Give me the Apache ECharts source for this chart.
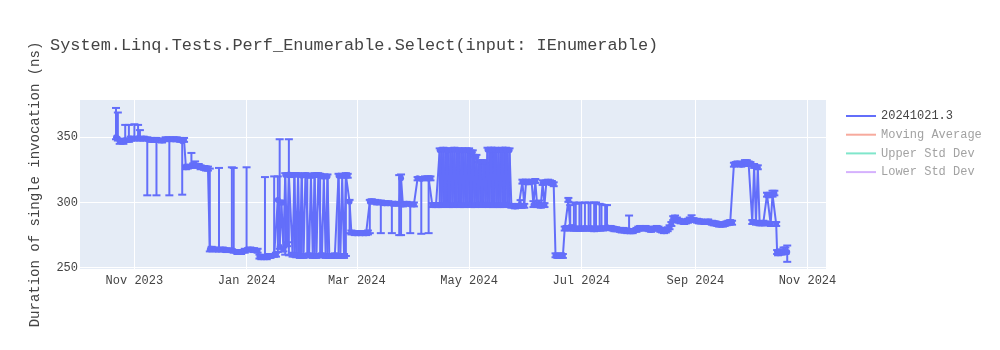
<!DOCTYPE html>
<html>
<head>
<meta charset="utf-8">
<script src="https://cdn.jsdelivr.net/npm/echarts@6/dist/echarts.min.js"></script>
<style>
  html, body { margin: 0; padding: 0; background: #ffffff; }
  #chart { width: 1000px; height: 350px; }
</style>
</head>
<body>
<div id="chart"></div>
<script>
// ---------------- texts & ticks ----------------
const chartTitle = 'System.Linq.Tests.Perf_Enumerable.Select(input: IEnumerable)';
const yAxisTitle = 'Duration of single invocation (ns)';
const seriesNames = ['20241021.3', 'Moving Average', 'Upper Std Dev', 'Lower Std Dev'];
const xTickDates = ['2023-11-01', '2024-01-01', '2024-03-01', '2024-05-01', '2024-07-01', '2024-09-01', '2024-11-01'];
const xTickLabels = ['Nov 2023', 'Jan 2024', 'Mar 2024', 'May 2024', 'Jul 2024', 'Sep 2024', 'Nov 2024'];
const yTickValues = [250, 300, 350];
const xRange = ['2023-10-02 10:00', '2024-11-11 02:00'];
const yRange = [249, 378.6];

// ---------------- data ----------------
const runDates = [
  // Oct 2023
  '2023-10-22','2023-10-23','2023-10-24','2023-10-26','2023-10-27','2023-10-29','2023-10-30',
  // Nov 2023
  '2023-11-01','2023-11-03','2023-11-04','2023-11-06','2023-11-08','2023-11-10','2023-11-12','2023-11-13','2023-11-16','2023-11-18','2023-11-20','2023-11-22','2023-11-24','2023-11-26','2023-11-27','2023-11-28','2023-11-29','2023-11-30',
  // Dec 2023
  '2023-12-02','2023-12-03','2023-12-04','2023-12-06','2023-12-07','2023-12-09','2023-12-10','2023-12-11','2023-12-12','2023-12-13','2023-12-15','2023-12-17','2023-12-19','2023-12-21','2023-12-24','2023-12-25','2023-12-27','2023-12-29','2023-12-31',
  // Jan 2024
  '2024-01-01','2024-01-03','2024-01-05','2024-01-07','2024-01-08','2024-01-09','2024-01-11','2024-01-12','2024-01-13','2024-01-14','2024-01-16','2024-01-17','2024-01-18','2024-01-19','2024-01-20','2024-01-21','2024-01-22','2024-01-23','2024-01-24','2024-01-25','2024-01-26','2024-01-27','2024-01-28','2024-01-29','2024-01-30','2024-01-31',
  // Feb 2024
  '2024-02-01','2024-02-02','2024-02-03','2024-02-04','2024-02-05','2024-02-06','2024-02-07','2024-02-08','2024-02-09','2024-02-10','2024-02-11','2024-02-12','2024-02-13','2024-02-14','2024-02-15','2024-02-16','2024-02-18','2024-02-19','2024-02-20','2024-02-21','2024-02-22','2024-02-23','2024-02-24','2024-02-25','2024-02-26','2024-02-27','2024-02-29',
  // Mar 2024
  '2024-03-02','2024-03-04','2024-03-06','2024-03-07','2024-03-08','2024-03-09','2024-03-11','2024-03-12','2024-03-14','2024-03-16','2024-03-18','2024-03-20','2024-03-22','2024-03-24','2024-03-25','2024-03-26','2024-03-28','2024-03-30',
  // Apr 2024
  '2024-04-01','2024-04-03','2024-04-05','2024-04-07','2024-04-09','2024-04-10','2024-04-11','2024-04-13','2024-04-14',
  '2024-04-15','2024-04-16','2024-04-17','2024-04-18','2024-04-19','2024-04-20','2024-04-21','2024-04-22','2024-04-23','2024-04-24','2024-04-25','2024-04-26','2024-04-27','2024-04-28','2024-04-29','2024-04-30',
  // May 2024
  '2024-05-01','2024-05-02','2024-05-03','2024-05-04','2024-05-05','2024-05-06','2024-05-07','2024-05-08','2024-05-09','2024-05-10','2024-05-11','2024-05-12','2024-05-13','2024-05-14','2024-05-15','2024-05-16','2024-05-17','2024-05-18','2024-05-19','2024-05-20','2024-05-21','2024-05-22','2024-05-23','2024-05-24',
  '2024-05-26','2024-05-28','2024-05-29','2024-05-30','2024-05-31',
  // Jun 2024
  '2024-06-01','2024-06-02','2024-06-04','2024-06-05','2024-06-06','2024-06-07','2024-06-08','2024-06-09','2024-06-10','2024-06-11','2024-06-12','2024-06-13','2024-06-14','2024-06-15','2024-06-16','2024-06-17','2024-06-18','2024-06-19','2024-06-20','2024-06-21','2024-06-22','2024-06-23','2024-06-24','2024-06-25','2024-06-26','2024-06-27','2024-06-28','2024-06-29','2024-06-30',
  // Jul 2024
  '2024-07-01','2024-07-02','2024-07-03','2024-07-04','2024-07-05','2024-07-06','2024-07-07','2024-07-08','2024-07-09','2024-07-10','2024-07-11','2024-07-12','2024-07-13','2024-07-14','2024-07-15','2024-07-16','2024-07-17','2024-07-18','2024-07-19','2024-07-20',
  '2024-07-22','2024-07-23','2024-07-24','2024-07-25','2024-07-26','2024-07-27','2024-07-28','2024-07-29','2024-07-31',
  // Aug 2024
  '2024-08-01','2024-08-02','2024-08-03','2024-08-05','2024-08-06','2024-08-07','2024-08-08','2024-08-10','2024-08-11','2024-08-12','2024-08-13','2024-08-14','2024-08-15','2024-08-16','2024-08-17','2024-08-18','2024-08-19','2024-08-20','2024-08-21','2024-08-22','2024-08-23','2024-08-24','2024-08-26','2024-08-27','2024-08-28','2024-08-29','2024-08-30','2024-08-31',
  // Sep 2024
  '2024-09-02','2024-09-03','2024-09-04','2024-09-06','2024-09-07','2024-09-08','2024-09-10','2024-09-11','2024-09-12','2024-09-13','2024-09-14','2024-09-16','2024-09-17','2024-09-18','2024-09-19','2024-09-20','2024-09-21','2024-09-22','2024-09-23','2024-09-24','2024-09-25','2024-09-26','2024-09-27','2024-09-28','2024-09-29','2024-09-30',
  // Oct 2024
  '2024-10-01','2024-10-02','2024-10-03','2024-10-04','2024-10-05','2024-10-06','2024-10-07','2024-10-08','2024-10-09','2024-10-10','2024-10-11','2024-10-12','2024-10-13','2024-10-14','2024-10-15','2024-10-15 12:00','2024-10-16','2024-10-17','2024-10-18','2024-10-19','2024-10-20','2024-10-21'
];

const durations = [
  // Oct 2023
  350, 349, 347, 346.5, 348, 348, 349,
  // Nov 2023
  349, 349.5, 349, 349, 348.5, 348, 348, 348, 347.5, 348.5, 348.5, 348.5, 348.5, 348, 347, 348, 327, 327.5,
  // Dec 2023
  328, 328.5, 329, 328, 327, 326.5, 326, 326, 264, 264.5, 264, 264, 264, 263.5, 263.5, 263, 262, 262, 263,
  // Jan 2024
  264, 264, 263.5, 263, 258.5, 258, 258.5, 258, 259, 259, 260, 260, 302, 266, 300, 264, 321, 268, 321.5, 321, 260, 321, 259.5, 321, 259, 320.5,
  // Feb 2024
  259, 321, 320.5, 259.5, 320.5, 259, 321, 259, 321, 320.5, 259.5, 320, 259, 320, 259, 259, 259.5, 259, 320.5, 259, 320.5, 259, 321, 320.5, 300.5, 277, 276.5,
  // Mar 2024
  276.5, 276.5, 276.5, 277, 300.5, 301, 300.5, 300, 300, 299.5, 299.5, 299, 299, 299, 318.5, 298.5, 299, 298.5,
  // Apr 2024
  298.5, 318.5, 318, 318.5, 318.5, 318.5, 298, 298, 298,
  340, 298, 340.5, 298.5, 340, 298, 340, 298, 340.5, 298.5, 340, 298, 340, 298, 340, 298.5,
  // May 2024
  340, 298, 338.5, 298, 335, 298.5, 331, 298, 331, 298.5, 340.5, 298, 340.5, 298, 340.5, 298, 340, 298, 340.5, 298, 340.5, 298.5, 340, 297.5,
  297, 297.5, 297.5, 316, 297.5,
  // Jun 2024
  316, 315.5, 316, 298, 316.5, 298, 298.5, 297.5, 315, 298, 315.5, 316, 315.5, 315, 314, 259.5, 259, 259, 259.5, 259, 280, 280.5, 302, 280, 281, 280, 280, 280, 280,
  // Jul 2024
  280, 280, 280.5, 280, 280, 280.5, 280, 279.5, 280, 280, 280, 280.5, 280, 280.5, 281, 280.5, 280.5, 280, 279.5, 279.5,
  279, 278.5, 279, 278.5, 278, 278.5, 278, 278, 279,
  // Aug 2024
  280, 280.5, 280, 280.5, 280, 279.5, 279, 280, 280.5, 280, 279, 278.5, 278, 278.5, 279.5, 281, 283.5, 288, 288.5, 287, 286, 285.5, 285, 285.5, 286, 287, 287.5, 286.5,
  // Sep 2024
  286, 285.5, 285.5, 285, 285, 285.5, 284.5, 284, 284, 283.5, 283, 283, 283.5, 284, 284.5, 285, 284.5, 329, 329.5, 330, 329.5, 329, 329.5, 330.5, 330, 330,
  // Oct 2024
  329.5, 285, 328, 284.5, 327, 284, 284, 284.5, 284, 306, 305.5, 283.5, 306, 307, 283.5, 262, 261, 262.5, 261.5, 262.5, 262, 262
];

const errMinus = [
  // Oct 2023
  1.5, 1.5, 2, 1.5, 1.5, 1.5, 1.5,
  // Nov 2023
  1.5, 1.5, 1.5, 1.5, 43, 1.5, 1.5, 42.5, 1.5, 1.5, 43, 1.5, 1.5, 1.5, 41, 1.5, 1.5, 1.5,
  // Dec 2023
  1.5, 1.5, 1.5, 1.5, 1.5, 1.5, 1.5, 1.5, 1.5, 1.5, 1.5, 1.5, 1.5, 1.5, 1.5, 1.5, 1.5, 1.5, 1.5,
  // Jan 2024
  1.5, 1.5, 1.5, 1.5, 1.5, 1.5, 1.5, 1.5, 1.5, 1.5, 1.5, 1.5, 40, 1.5, 1.5, 1.5, 61, 1.5, 62, 1.5, 1.5, 61.5, 1.5, 61.5, 1.5, 61,
  // Feb 2024
  1.5, 1.5, 61, 1.5, 1.5, 1.5, 62, 1.5, 1.5, 61.5, 1.5, 1.5, 1.5, 61, 1.5, 1.5, 1.5, 1.5, 61.5, 1.5, 1.5, 1.5, 62, 1.5, 24, 1.5, 1.5,
  // Mar 2024
  1.5, 1.5, 1.5, 1.5, 24, 1.5, 1.5, 1.5, 23.5, 1.5, 1.5, 22.5, 1.5, 24, 43.5, 1.5, 1.5, 22,
  // Apr 2024
  1.5, 1.5, 42, 1.5, 42, 1.5, 1.5, 1.5, 1.5,
  42, 1.5, 42.5, 1.5, 42, 1.5, 42, 1.5, 42.5, 1.5, 42, 1.5, 42, 1.5, 42, 1.5,
  // May 2024
  42, 1.5, 40.5, 1.5, 37, 1.5, 33, 1.5, 33, 1.5, 42.5, 1.5, 42.5, 1.5, 42.5, 1.5, 42, 1.5, 42.5, 1.5, 42.5, 1.5, 42.5, 1.5,
  1.5, 1.5, 1.5, 1.5, 1.5,
  // Jun 2024
  1.5, 1.5, 1.5, 1.5, 1.5, 1.5, 1.5, 1.5, 1.5, 1.5, 1.5, 1.5, 1.5, 1.5, 1.5, 1.5, 1.5, 1.5, 1.5, 1.5, 1.5, 1.5, 1.5, 1.5, 1.5, 1.5, 1.5, 1.5, 1.5,
  // Jul 2024
  1.5, 1.5, 1.5, 1.5, 1.5, 1.5, 1.5, 1.5, 1.5, 1.5, 1.5, 1.5, 1.5, 1.5, 1.5, 1.5, 1.5, 1.5, 1.5, 1.5,
  1.5, 1.5, 1.5, 1.5, 1.5, 1.5, 1.5, 1.5, 1.5,
  // Aug 2024
  1.5, 1.5, 1.5, 1.5, 1.5, 1.5, 1.5, 1.5, 1.5, 1.5, 1.5, 1.5, 1.5, 1.5, 1.5, 1.5, 1.5, 1.5, 1.5, 1.5, 1.5, 1.5, 1.5, 1.5, 1.5, 1.5, 1.5, 1.5,
  // Sep 2024
  1.5, 1.5, 1.5, 1.5, 1.5, 1.5, 1.5, 1.5, 1.5, 1.5, 1.5, 1.5, 1.5, 1.5, 1.5, 1.5, 1.5, 1.5, 1.5, 1.5, 1.5, 1.5, 1.5, 1.5, 1.5, 1.5,
  // Oct 2024
  1.5, 1.5, 1.5, 1.5, 1.5, 1.5, 1.5, 1.5, 1.5, 1.5, 1.5, 1.5, 1.5, 1.5, 1.5, 1.5, 1.5, 1.5, 1.5, 1.5, 1.5, 7.5
];

const errPlus = [
  // Oct 2023
  22.5, 20, 2, 1.5, 11.5, 11.5, 1.5,
  // Nov 2023
  11, 10, 6.5, 1.5, 1.5, 1.5, 1.5, 1.5, 1.5, 1.5, 1.5, 1.5, 1.5, 1.5, 1.5, 1.5, 1.5, 1.5,
  // Dec 2023
  10, 1.5, 2.5, 1.5, 1.5, 1.5, 1.5, 1.5, 62, 1.5, 1.5, 62.5, 1.5, 1.5, 63.5, 63.5, 1.5, 1.5, 1.5,
  // Jan 2024
  63, 1.5, 1.5, 1.5, 1.5, 1.5, 61, 1.5, 1.5, 1.5, 60, 1.5, 18, 82.5, 1.5, 1.5, 1.5, 1.5, 27, 1.5, 1.5, 1.5, 1.5, 1.5, 1.5, 1.5,
  // Feb 2024
  1.5, 1.5, 1.5, 1.5, 1.5, 1.5, 1.5, 1.5, 1.5, 1.5, 1.5, 1.5, 1.5, 1.5, 1.5, 1.5, 1.5, 1.5, 1.5, 1.5, 1.5, 1.5, 1.5, 1.5, 1.5, 1.5, 1.5,
  // Mar 2024
  1.5, 1.5, 1.5, 1.5, 1.5, 1.5, 1.5, 1.5, 1.5, 1.5, 1.5, 1.5, 1.5, 22, 3, 1.5, 1.5, 1.5,
  // Apr 2024
  1.5, 1, 1.5, 1.5, 1.5, 1.5, 1.5, 1.5, 1.5,
  1.5, 42, 1.5, 41.5, 1.5, 42, 1.5, 42, 1.5, 41.5, 1.5, 42, 1.5, 42, 1.5, 41.5,
  // May 2024
  1.5, 40, 1.5, 37, 1.5, 32.5, 1.5, 33, 1.5, 32, 1.5, 42.5, 1.5, 42.5, 1.5, 42, 1.5, 42.5, 1.5, 42.5, 1.5, 41.5, 1.5, 1.5,
  1.5, 1.5, 4.3, 1.5, 1.5,
  // Jun 2024
  1.5, 1.5, 1.5, 3, 1.5, 1.5, 3, 1.5, 2, 1.5, 1.5, 1.5, 1.5, 1.5, 1.5, 1.5, 1.5, 1.5, 1.5, 1.5, 1.5, 1.5, 1.5, 18, 1.5, 20, 19, 1.5, 20,
  // Jul 2024
  19.5, 1.5, 19.5, 1.5, 20, 19, 1.5, 20.5, 20, 1.5, 19, 18, 1.5, 17.5, 17, 1.5, 1.5, 1.5, 1.5, 1.5,
  1.5, 1.5, 1.5, 1.5, 1.5, 11.5, 1.5, 1.5, 1.5,
  // Aug 2024
  1.5, 1.5, 1.5, 1.5, 1.5, 1.5, 1.5, 1.5, 1.5, 1.5, 1.5, 1.5, 1.5, 1.5, 1.5, 1.5, 1.5, 1.5, 1.5, 1.5, 1.5, 1.5, 1.5, 1.5, 1.5, 1.5, 2.7, 1.5,
  // Sep 2024
  1.5, 1.5, 1.5, 1.5, 1.5, 1.5, 1.5, 1.5, 1.5, 1.5, 1.5, 1.5, 1.5, 1.5, 1.5, 1.5, 1.5, 1.5, 1.5, 1.5, 1.5, 1.5, 1.5, 2, 2.5, 1.5,
  // Oct 2024
  1.5, 1.5, 1.5, 1.5, 1.5, 1.5, 1.5, 1.5, 1.5, 1.5, 1.5, 1.5, 3, 2, 1.5, 1.5, 1.5, 1.5, 1.5, 3, 3.5, 5
];

// ---------------- styles ----------------
const FONT = '"Courier New", "Liberation Mono", monospace';
const TEXT = '#444444';
const FADED_TEXT = '#a2a2a2';
const BLUE = '#636efa';
const FADED = ['#f7aa9d', '#80e6cb', '#d5b1fd'];

const parse = (s) => echarts.time.parse(s).getTime();
const n = Math.min(runDates.length, durations.length, errMinus.length, errPlus.length);
const lineData = [];
const errData = [];
for (let i = 0; i < n; i++) {
  const t = parse(runDates[i]);
  lineData.push([t, durations[i]]);
  errData.push([t, durations[i] - errMinus[i], durations[i] + errPlus[i]]);
}
const tickTimes = xTickDates.map(parse);

const chart = echarts.init(document.getElementById('chart'), null, { renderer: 'canvas' });
const lineIcon = 'path://M0,0L30,0L30,2L0,2Z';

chart.setOption({
  animation: false,
  backgroundColor: '#ffffff',
  title: {
    text: chartTitle,
    left: 50, top: 37, padding: 0,
    textStyle: { fontFamily: FONT, fontSize: 16.9, fontWeight: 'normal', color: TEXT }
  },
  legend: {
    orient: 'vertical',
    left: 846, top: 110, padding: 0,
    itemWidth: 30, itemHeight: 14, itemGap: 6.7,
    icon: lineIcon,
    symbolKeepAspect: true,
    textStyle: { fontFamily: FONT, fontSize: 12, color: TEXT },
    data: [
      { name: seriesNames[0] },
      { name: seriesNames[1], textStyle: { color: FADED_TEXT } },
      { name: seriesNames[2], textStyle: { color: FADED_TEXT } },
      { name: seriesNames[3], textStyle: { color: FADED_TEXT } }
    ]
  },
  grid: {
    left: 80, right: 174, top: 100, bottom: 81,
    show: true, backgroundColor: '#E5ECF6', borderWidth: 0
  },
  xAxis: {
    type: 'value',
    min: parse(xRange[0]), max: parse(xRange[1]),
    axisLine: { show: false },
    axisTick: { show: false, customValues: tickTimes },
    axisLabel: {
      customValues: tickTimes,
      color: TEXT, fontFamily: FONT, fontSize: 12, margin: 6,
      formatter: function (v) {
        const i = tickTimes.indexOf(v);
        return i >= 0 ? xTickLabels[i] : '';
      }
    },
    splitLine: { show: true, lineStyle: { color: '#ffffff', width: 1 } }
  },
  yAxis: {
    type: 'value',
    min: yRange[0], max: yRange[1],
    axisLine: { show: false },
    axisTick: { show: false, customValues: yTickValues },
    axisLabel: { customValues: yTickValues, color: TEXT, fontFamily: FONT, fontSize: 12, margin: 2 },
    splitLine: { show: true, lineStyle: { color: '#ffffff', width: 1 } },
    name: yAxisTitle,
    nameLocation: 'middle',
    nameGap: 38,
    nameRotate: 90,
    nameTextStyle: { fontFamily: FONT, fontSize: 14, color: TEXT }
  },
  series: [
    {
      name: 'error bars',
      type: 'custom',
      clip: true,
      silent: true,
      data: errData,
      encode: { x: 0, y: [1, 2] },
      renderItem: function (params, api) {
        const x = api.value(0);
        const lo = api.coord([x, api.value(1)]);
        const hi = api.coord([x, api.value(2)]);
        const w = 4;
        const style = { stroke: BLUE, lineWidth: 2 };
        return {
          type: 'group',
          children: [
            { type: 'line', shape: { x1: lo[0], y1: lo[1], x2: hi[0], y2: hi[1] }, style: style },
            { type: 'line', shape: { x1: lo[0] - w, y1: lo[1], x2: lo[0] + w, y2: lo[1] }, style: style },
            { type: 'line', shape: { x1: hi[0] - w, y1: hi[1], x2: hi[0] + w, y2: hi[1] }, style: style }
          ]
        };
      },
      z: 2
    },
    {
      name: seriesNames[0],
      type: 'line',
      data: lineData,
      color: BLUE,
      symbol: 'circle',
      symbolSize: 6,
      showSymbol: true,
      showAllSymbol: true,
      lineStyle: { width: 2, color: BLUE },
      itemStyle: { color: BLUE },
      z: 3
    },
    { name: seriesNames[1], type: 'line', data: [], color: FADED[0], lineStyle: { color: FADED[0] }, symbol: 'none' },
    { name: seriesNames[2], type: 'line', data: [], color: FADED[1], lineStyle: { color: FADED[1] }, symbol: 'none' },
    { name: seriesNames[3], type: 'line', data: [], color: FADED[2], lineStyle: { color: FADED[2] }, symbol: 'none' }
  ]
});
</script>
</body>
</html>
